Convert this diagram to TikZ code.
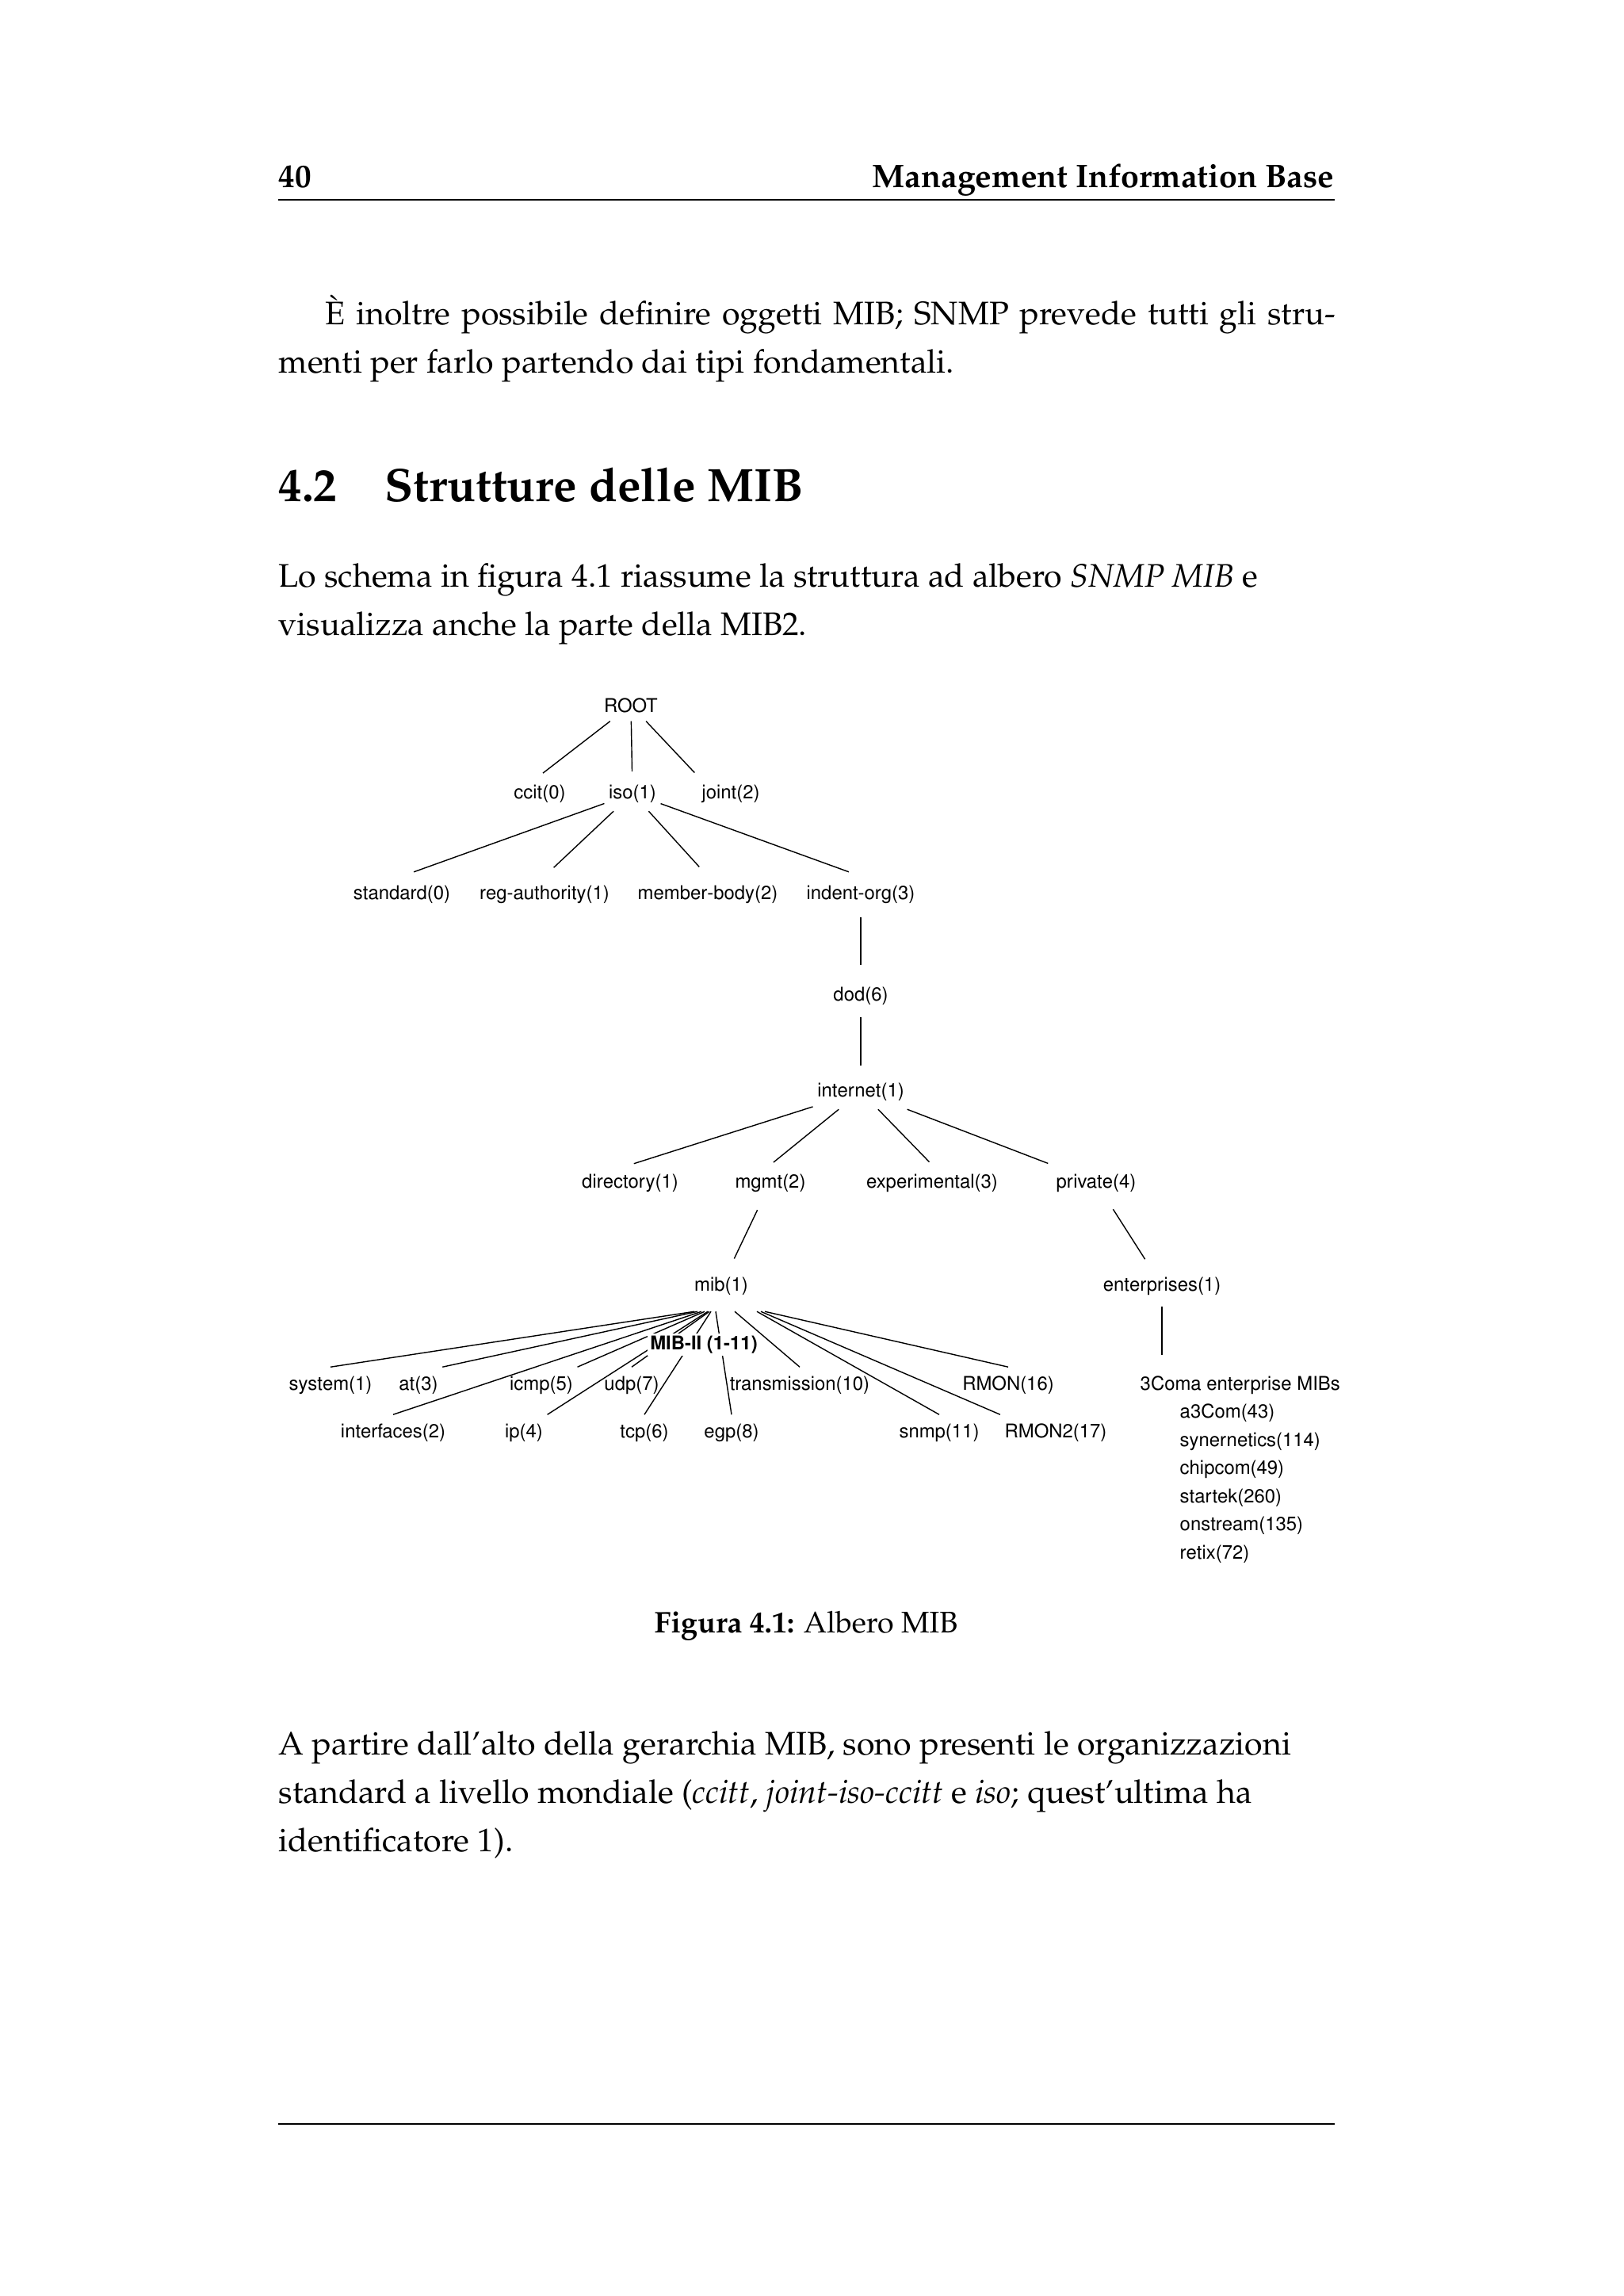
\documentclass[tikz,border=0pt]{standalone}
\usepackage[T1]{fontenc}
\usepackage{mathpazo}
\usepackage{tikz}
\usetikzlibrary{positioning}
\tikzstyle{leaf} = [font=\fontfamily{phv}\fontsize{6.8}{8}\selectfont, inner xsep=0.5mm, inner ysep=1.05mm, anchor=base]
\tikzstyle{boldleaf} = [font=\fontfamily{phv}\bfseries\fontsize{6.8}{8}\selectfont, fill=white, inner sep=0.3mm, anchor=base]
\tikzstyle{branch} = [line width=0.4pt, shorten >=0.5mm]
\tikzstyle{fan} = [line width=0.4pt]
\tikzstyle{body} = [font=\fontsize{11.7}{15}\selectfont, inner sep=0pt, anchor=base west]
\tikzstyle{pagerule} = [line width=0.7pt]

\begin{document}
\begin{tikzpicture}
        \fill[white] (0,0) rectangle (20.48,-28.96);
        \useasboundingbox (0,0) rectangle (20.48,-28.96);

        % testata
        \node (pagenum) [body] at (3.51,-2.37) {\textbf{40}};
        \node (runhead) [body, anchor=base east] at (16.84,-2.37) {\textbf{Management Information Base}};
        \draw [pagerule] (3.51,-2.52) -- (16.84,-2.52);

        \node (par1a) [body] at (4.10,-4.10) {\hbox to 12.74cm{\`E inoltre possibile definire oggetti MIB; SNMP prevede tutti gli stru-}};
        \node (par1b) [body] at (3.51,-4.71) {menti per farlo partendo dai tipi fondamentali.};

        \node (secnum) [body, font=\fontsize{16.8}{20}\selectfont\bfseries] at (3.51,-6.33) {4.2};
        \node (sectitle) [body, font=\fontsize{16.8}{20}\selectfont\bfseries] at (4.85,-6.33) {Strutture delle MIB};

        \node (par2a) [body] at (3.51,-7.40) {Lo schema in figura 4.1 riassume la struttura ad albero \emph{SNMP MIB} e};
        \node (par2b) [body] at (3.51,-8.01) {visualizza anche la parte della MIB2.};

        % albero
        \node (root) [leaf] at (7.96,-8.98) {ROOT};
        \node (ccit) [leaf] at (6.81,-10.07) {ccit(0)};
        \node (iso) [leaf] at (7.98,-10.07) {iso(1)};
        \node (joint) [leaf] at (9.22,-10.07) {joint(2)};

        \node (std) [leaf] at (5.07,-11.34) {standard(0)};
        \node (reg) [leaf] at (6.87,-11.34) {reg-authority(1)};
        \node (member) [leaf] at (8.93,-11.34) {member-body(2)};
        \node (indorg) [leaf] at (10.86,-11.34) {indent-org(3)};
        \node (dod) [leaf] at (10.86,-12.62) {dod(6)};
        \node (internet) [leaf] at (10.86,-13.83) {internet(1)};

        \node (dir) [leaf] at (7.95,-14.98) {directory(1)};
        \node (mgmt) [leaf] at (9.72,-14.98) {mgmt(2)};
        \node (exper) [leaf] at (11.76,-14.98) {experimental(3)};
        \node (priv) [leaf] at (13.83,-14.98) {private(4)};

        \node (mib) [leaf] at (9.10,-16.28) {mib(1)};
        \node (ent) [leaf] at (14.66,-16.28) {enterprises(1)};

        \node (system) [leaf] at (4.17,-17.53) {system(1)};
        \node (at3) [leaf] at (5.28,-17.53) {at(3)};
        \node (icmp) [leaf] at (6.83,-17.53) {icmp(5)};
        \node (udp) [leaf] at (7.97,-17.53) {udp(7)};
        \node (transmission) [leaf] at (10.09,-17.53) {transmission(10)};
        \node (rmon) [leaf] at (12.72,-17.53) {RMON(16)};
        \node (interfaces) [leaf] at (4.96,-18.13) {interfaces(2)};
        \node (ip) [leaf] at (6.61,-18.13) {ip(4)};
        \node (tcp) [leaf] at (8.13,-18.13) {tcp(6)};
        \node (egp) [leaf] at (9.23,-18.13) {egp(8)};
        \node (snmp) [leaf] at (11.85,-18.13) {snmp(11)};
        \node (rmontwo) [leaf] at (13.32,-18.13) {RMON2(17)};

        \node (coms) [leaf, anchor=base west] at (14.33,-17.53) {3Coma enterprise MIBs};
        \foreach \n/\txt [count=\i] in {acom/a3Com(43), syn/synernetics(114), chip/chipcom(49), star/startek(260), onst/onstream(135), retix/retix(72)}
            \node (\n) [leaf, anchor=base west] at (14.83,{-17.53-0.355*\i}) {\txt};

        \draw [branch] (root) -- (ccit.north);
        \draw [branch] (root) -- (iso);
        \draw [branch] (root) -- (joint.north west);
        \draw [branch, shorten >=1.6mm] (iso) -- (std.north);
        \draw [branch, shorten >=1.6mm] (iso) -- (reg.north);
        \draw [branch, shorten >=1.6mm] (iso) -- (member.north);
        \draw [branch, shorten >=1.6mm] (iso) -- (indorg.north);
        \draw [branch, shorten <=0.6mm, shorten >=1.6mm] (indorg) -- (dod);
        \draw [branch, shorten <=0.5mm, shorten >=1mm] (dod) -- (internet);
        \draw [branch] (internet) -- (dir.north);
        \draw [branch] (internet) -- (mgmt.north);
        \draw [branch] (internet) -- (exper.north);
        \draw [branch] (internet) -- (priv.north west);
        \draw [branch, shorten <=1.3mm, shorten >=1.3mm] (mgmt) -- (mib);
        \draw [branch, shorten <=1.3mm, shorten >=1.3mm] (priv) -- (ent);
        \draw [branch, shorten <=0.4mm, shorten >=1.5mm] (ent) -- (ent |- coms.north);

        \foreach \n/\a/\dx in {system/north/-3.4, at3/north east/-3.0, interfaces/north/-2.5, icmp/north east/-2.1, ip/north east/-1.7, udp/north/-1.5, tcp/north/-1.3, egp/north/-0.7, transmission/north/1.7, snmp/north/4.5, rmontwo/north west/5.0, rmon/north/5.5}
            \draw [fan] ([shift={(\dx mm,-1mm)}]mib.south) -- (\n.\a);

        \node (mibtwo) [boldleaf] at (8.88,-17.02) {MIB-II (1-11)};

        \node (caption) [body, anchor=base, font=\fontsize{10.7}{14}\selectfont] at (10.17,-20.59) {\textbf{Figura 4.1:} Albero MIB};

        \node (par3a) [body] at (3.51,-22.13) {A partire dall'alto della gerarchia MIB, sono presenti le organizzazioni};
        \node (par3b) [body] at (3.51,-22.74) {standard a livello mondiale (\emph{ccitt}, \emph{joint-iso-ccitt} e \emph{iso}; quest'ultima ha};
        \node (par3c) [body] at (3.51,-23.35) {identificatore 1).};

        \draw [pagerule] (3.51,-26.79) -- (16.84,-26.79);
\end{tikzpicture}
\end{document}
